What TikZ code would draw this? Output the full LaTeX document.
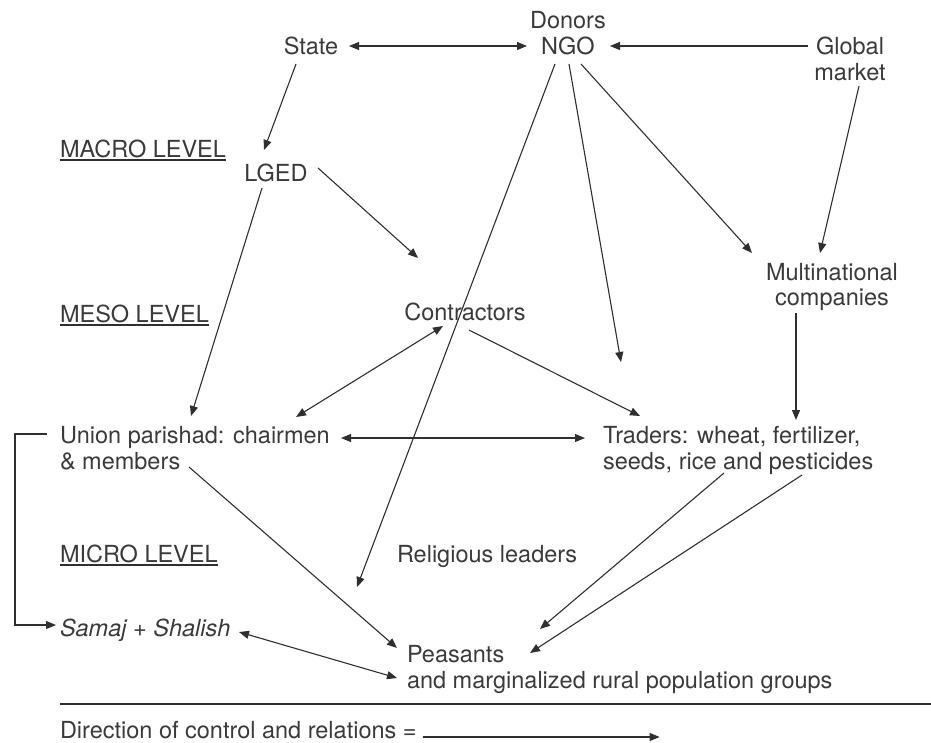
\documentclass[tikz,border=0pt]{standalone}
\usepackage{fontspec}
\setmainfont{TeX Gyre Heros}
\usetikzlibrary{arrows.meta,calc}
\definecolor{ink}{HTML}{3A3A3A}
\definecolor{wire}{HTML}{2F2F2F}
\begin{document}
\begin{tikzpicture}[x=1pt,y=-1pt,
  lbl/.style={inner sep=0pt,outer sep=0pt,text=ink,font=\fontsize{23.5}{26}\selectfont},
  lvl/.style={lbl,anchor=base west},
  ctr/.style={lbl,anchor=base},
  tip/.tip={Triangle[length=10pt,width=8pt]},
  arr/.style={draw=wire,line width=1.1pt,-tip},
  biarr/.style={draw=wire,line width=1.1pt,tip-tip},
  uline/.style={draw=wire,line width=1.4pt}]
% canvas
\fill[white] (0,0) rectangle (931,742);
\useasboundingbox (0,0) rectangle (931,742);

% actors
\node[ctr] (donors) at (568,28) {Donors};
\node[ctr] (ngo) at (568,54) {NGO};
\node[ctr] (state) at (311,54) {State};
\node[ctr] (global) at (850,54) {Global};
\node[ctr] (market) at (850,80) {market};
\node[ctr] (lged) at (276,181) {LGED};
\node[ctr] (multi) at (832,280) {Multinational};
\node[ctr] (companies) at (832,305) {companies};
\node[ctr] (contractors) at (465,320) {Contractors};
\node[lvl] (union) at (60,443) {Union parishad: chairmen};
\node[lvl] (union2) at (60,469) {\& members};
\node[lvl] (traders) at (603,443) {Traders: wheat, fertilizer,};
\node[lvl] (seeds) at (603,469) {seeds, rice and pesticides};
\node[lvl] (religious) at (397,562) {Religious leaders};
\node[lvl] (samaj) at (60,636) {\itshape Samaj + Shalish};
\node[lvl] (peasants) at (407,662) {Peasants};
\node[lvl] (peasants2) at (407,688) {and marginalized rural population groups};

% level labels
\node[lvl] (macro) at (60,157) {MACRO LEVEL};
\node[lvl] (meso) at (60,322) {MESO LEVEL};
\node[lvl] (micro) at (60,562) {MICRO LEVEL};
\foreach \n in {macro,meso,micro}
  \draw[uline] ($(\n.base west)+(0,3)$) -- ($(\n.base east)+(0,3)$);

% free arrow ends
\coordinate (toContr) at ($(contractors.base)+(-47,-62)$);
\coordinate (toRelig) at ($(religious.base west)+(-40,25)$);
\coordinate (toTrad) at ($(traders.base west)+(18,-81)$);

% top row
\draw[biarr] ($(state.base)+(38,-8)$) -- ($(ngo.base)+(-41,-8)$);
\draw[arr] ($(global.base)+(-42,-8)$) -- ($(ngo.base)+(42,-8)$);

% macro level
\draw[arr] ($(state.base)+(-15,10)$) -- ($(lged.base)+(-12,-31)$);
\draw[arr] ($(lged.base)+(42,-13)$) -- (toContr);
\draw[arr] ($(lged.base)+(-14,7)$) -- ($(union.base west)+(131,-27)$);
\draw[arr] ($(ngo.base)+(-13,10)$) -- (toRelig);
\draw[arr] ($(ngo.base)+(1,10)$) -- (toTrad);
\draw[arr] ($(ngo.base)+(13,10)$) -- ($(multi.base)+(-80,-27)$);
\draw[arr] ($(market.base)+(9,6)$) -- ($(multi.base)+(-12,-27)$);

% meso level
\draw[biarr] ($(contractors.base)+(-22,6)$) -- ($(union.base west)+(236,-26)$);
\draw[arr] ($(contractors.base)+(4,10)$) -- ($(traders.base west)+(37,-27)$);
\draw[arr] ($(companies.base)+(-36,8)$) -- ($(traders.base west)+(193,-23)$);
\draw[biarr] ($(union.base west)+(281,-5)$) -- ($(traders.base west)+(-18,-5)$);

% micro level
\draw[arr] ($(union2.base west)+(129,-2)$) -- ($(peasants.base west)+(-10,-14)$);
\draw[arr] ($(seeds.base west)+(121,4)$) -- ($(peasants.base west)+(133,-33)$);
\draw[arr] ($(seeds.base west)+(199,6)$) -- ($(peasants.base west)+(123,-9)$);
\draw[biarr] ($(samaj.base west)+(179,-4)$) -- ($(peasants2.base west)+(-10,-10)$);
\draw[arr] ($(union.base west)+(-13,-9)$) -- ($(union.base west)+(-45,-9)$)
  |- ($(samaj.base west)+(-4,-11)$);

% key
\draw[uline] (60,704) -- (931,704);
\node[lvl] (legend) at (60,738) {Direction of control and relations =};
\draw[arr] ($(legend.base east)+(6,-1)$) -- ($(legend.base east)+(243,-1)$);
\end{tikzpicture}
\end{document}
